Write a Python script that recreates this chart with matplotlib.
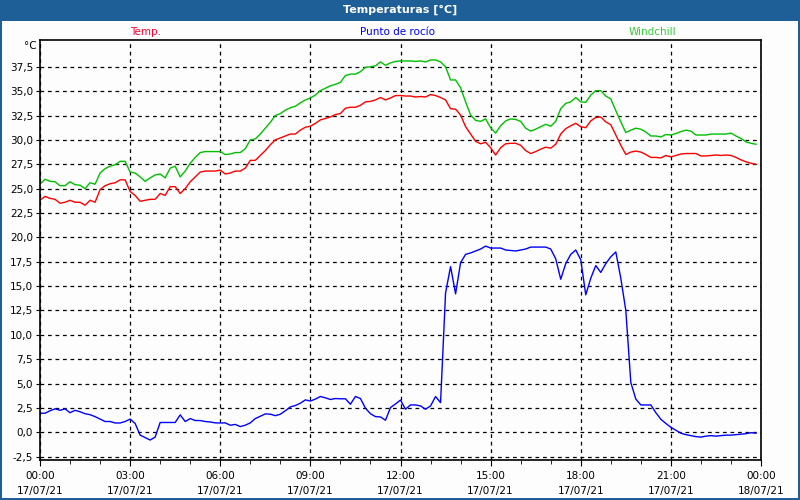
import numpy as np
import matplotlib
matplotlib.use("Agg")
import matplotlib.pyplot as plt
from matplotlib.patches import Rectangle

# 10 minute samples, 17/07/21 00:00 .. 23:50
hours = np.arange(144) / 6.0

temp = [23.8, 24.2, 24.0, 23.9, 23.5, 23.6, 23.8, 23.6, 23.6, 23.3,
        23.8, 23.6, 24.9, 25.3, 25.5, 25.6, 25.9, 25.9, 24.7, 24.3,
        23.7, 23.8, 23.9, 23.9, 24.5, 24.3, 25.2, 25.2, 24.5, 25.0,
        25.7, 26.2, 26.7, 26.8, 26.8, 26.8, 26.9, 26.5, 26.6, 26.8,
        26.8, 27.1, 27.9, 27.9, 28.4, 28.9, 29.5, 30.0, 30.2,
        30.4, 30.6, 30.6, 31.0, 31.3, 31.4, 31.7, 32.05, 32.2,
        32.35, 32.6, 32.7, 33.25, 33.35, 33.35, 33.55, 33.9, 33.95, 34.1,
        34.35, 34.1, 34.3, 34.55, 34.55, 34.5, 34.5, 34.4, 34.45, 34.4,
        34.65, 34.55, 34.35, 34.1, 33.2, 33.15, 32.55, 31.35, 30.6, 29.85,
        29.6, 29.75, 29.2, 28.45, 29.2, 29.6, 29.65, 29.65, 29.45,
        28.9, 28.6, 28.8, 29.05, 29.25, 29.15, 29.55, 30.6, 31.15,
        31.45, 31.7, 31.35, 31.25, 31.95, 32.3, 32.35, 31.85, 31.55, 30.5,
        29.45, 28.5, 28.75, 28.85, 28.75, 28.5, 28.2, 28.2, 28.15, 28.4,
        28.25, 28.4, 28.55, 28.6, 28.6, 28.6, 28.35, 28.35, 28.4, 28.45,
        28.4, 28.45, 28.4, 28.2, 27.95, 27.75, 27.6, 27.5]

windchill = [25.45, 25.96, 25.75, 25.7, 25.3, 25.3, 25.7, 25.4, 25.35, 25.0,
             25.6, 25.45, 26.6, 27.05, 27.3, 27.45, 27.8, 27.8, 26.7, 26.6,
             26.2, 25.75, 26.1, 26.4, 26.5, 26.1, 27.1, 27.3, 26.2, 26.8,
             27.6, 28.2, 28.7, 28.8, 28.8, 28.8, 28.8, 28.5, 28.55, 28.7,
             28.7, 29.1, 30.0, 30.1, 30.6, 31.2, 31.8, 32.5, 32.7,
             33.05, 33.3, 33.45, 33.8, 34.1, 34.3, 34.6, 35.05, 35.3,
             35.55, 35.7, 35.9, 36.6, 36.75, 36.75, 37.0, 37.45, 37.5, 37.6,
             38.0, 37.65, 37.9, 38.05, 38.1, 38.1, 38.1, 38.05, 38.1, 38.0,
             38.2, 38.2, 38.0, 37.5, 36.15, 36.15, 35.35, 33.9, 32.55, 32.0,
             31.9, 32.15, 31.25, 30.7, 31.45, 31.95, 32.15, 32.1, 31.9,
             31.2, 30.9, 31.1, 31.35, 31.6, 31.4, 31.9, 33.2, 33.75,
             33.9, 34.35, 33.9, 33.85, 34.6, 35.05, 35.05, 34.5, 34.2, 33.0,
             31.85, 30.75, 31.0, 31.2, 31.1, 30.8, 30.4, 30.4, 30.3, 30.55,
             30.5, 30.65, 30.85, 31.0, 30.9, 30.5, 30.5, 30.5, 30.6, 30.6,
             30.6, 30.6, 30.7, 30.4, 30.15, 29.8, 29.65, 29.55]

dewpoint = [1.95, 1.95, 2.2, 2.4, 2.25, 2.4, 2.0, 2.25, 2.1, 1.9,
            1.8, 1.6, 1.35, 1.1, 1.1, 0.95, 0.95, 1.1, 1.35, 0.9,
            -0.3, -0.55, -0.8, -0.5, 1.0, 1.0, 1.0, 1.0, 1.78, 1.1,
            1.4, 1.2, 1.2, 1.1, 1.05, 0.96, 0.95, 0.96, 0.72, 0.8,
            0.58, 0.72, 0.96, 1.4, 1.64, 1.88, 1.85, 1.7, 1.85, 2.2,
            2.6, 2.74, 2.98, 3.32, 3.2, 3.4, 3.67, 3.53, 3.36, 3.46,
            3.43, 3.43, 2.87, 3.67, 3.46, 2.46, 1.9, 1.6, 1.57, 1.23,
            2.53, 2.9, 3.3,
            2.36, 2.8, 2.8, 2.7, 2.36, 2.7, 3.66, 3.04,
            14.3, 17.0, 14.2, 17.4, 18.25, 18.4, 18.6, 18.8, 19.1, 18.9,
            18.9, 18.9, 18.7, 18.65, 18.6, 18.7, 18.8, 19.0, 19.0, 19.0,
            19.0, 18.8, 17.8, 15.7, 17.3, 18.25, 18.7, 17.7, 14.1, 15.8,
            17.1, 16.4, 17.3, 18.0, 18.5, 15.8, 12.5, 5.1, 3.4, 2.8,
            2.8, 2.8, 2.0, 1.33,
            0.9, 0.5, 0.2, -0.1, -0.25, -0.35, -0.45, -0.5, -0.4, -0.35,
            -0.4, -0.35, -0.3, -0.3, -0.25, -0.2, -0.15, -0.05, -0.1]

xtick_hours = [0, 3, 6, 9, 12, 15, 18, 21, 24]
xtick_labels = ['00:00\n17/07/21', '03:00\n17/07/21', '06:00\n17/07/21',
                '09:00\n17/07/21', '12:00\n17/07/21', '15:00\n17/07/21',
                '18:00\n17/07/21', '21:00\n17/07/21', '00:00\n18/07/21']
yticks = np.arange(-2.5, 37.6, 2.5)

plt.rcParams['font.family'] = ['DejaVu Sans']
plt.rcParams['font.size'] = 7.5

fig = plt.figure(figsize=(8, 5), dpi=100, facecolor='#1d5f96')
# white panel inside the blue frame
fig.patches.append(Rectangle((2/800, 2/500), 796/800, 477/500, transform=fig.transFigure,
                             facecolor='#fcfdfc', edgecolor='none', zorder=-10))
fig.text(0.5, 1 - 10/500, 'Temperaturas [°C]', color='white', fontweight='bold',
         ha='center', va='center', fontsize=8)

ax = fig.add_axes([40/800, 40/500, 721/800, 420/500])
ax.set_zorder(5)
ax.set_facecolor('#fcfdfc')

ax.plot(hours, temp, color='#ff0000', lw=1)
ax.plot(hours, dewpoint, color='#0000ff', lw=1)
ax.plot(hours, windchill, color='#00c000', lw=1)

ax.set_xlim(0, 24)
ax.set_ylim(-2.85, 40.25)
ax.set_xticks(xtick_hours)
ax.set_xticklabels(xtick_labels, linespacing=1.6)
ax.set_xticks(np.arange(0, 25, 1), minor=True)
ax.set_yticks(yticks)
ax.set_yticklabels([('%.1f' % v).replace('.', ',') for v in yticks])

ax.grid(True, which='major', color='black', linestyle=(0, (3, 3)), lw=0.9)
ax.tick_params(axis='both', which='both', direction='out', color='black', pad=2)
ax.tick_params(axis='x', which='major', length=4, pad=4)
ax.tick_params(axis='x', which='minor', length=3)
ax.tick_params(axis='y', length=3)
for s in ax.spines.values():
    s.set_color('black')
    s.set_linewidth(1.2)

fig.text(30/800, 1 - 46/500, '°C', ha='center', va='center', zorder=6)
fig.text(146/800, 1 - 32/500, 'Temp.', color='#ff0033', ha='center', va='center', zorder=6)
fig.text(398/800, 1 - 32/500, 'Punto de rocío', color='#0000ff', ha='center', va='center', zorder=6)
fig.text(652/800, 1 - 32/500, 'Windchill', color='#33cc33', ha='center', va='center', zorder=6)

fig.savefig('out.png', dpi=100, facecolor=fig.get_facecolor())
